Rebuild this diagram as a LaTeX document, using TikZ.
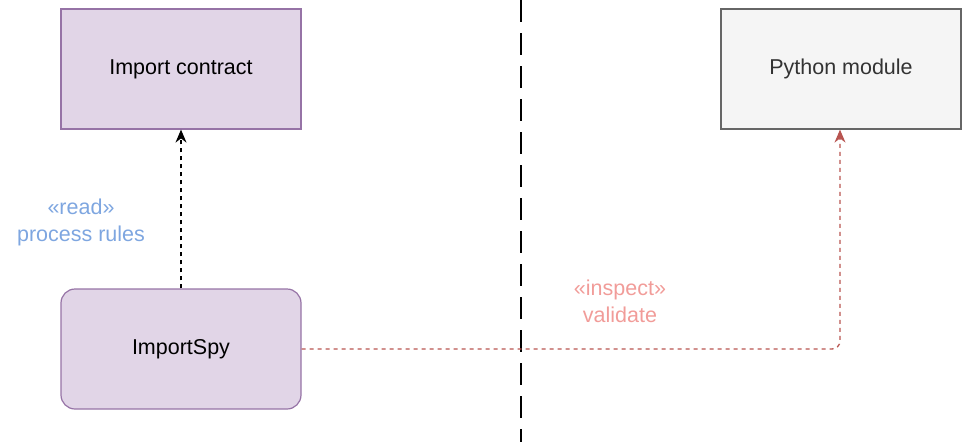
\documentclass[tikz,border=0pt]{standalone}
\usepackage{fontspec}
\setmainfont{Liberation Sans}
\usetikzlibrary{positioning,arrows.meta}
\definecolor{purplefill}{HTML}{E1D5E7}
\definecolor{purpleline}{HTML}{9673A6}
\definecolor{greyfill}{HTML}{F5F5F5}
\definecolor{greyline}{HTML}{666666}
\definecolor{redline}{HTML}{B85450}
\definecolor{redtext}{HTML}{F19C99}
\definecolor{bluetext}{HTML}{7EA6E0}
\tikzset{
  box/.style={draw, line width=1.2pt, minimum width=240pt, minimum height=120pt, font=\fontsize{21.5}{26}\selectfont},
  lbl/.style={align=center, font=\fontsize{21.5}{27}\selectfont},
  flow/.style={dash pattern=on 4pt off 4pt, line width=1.3pt, -{Stealth[length=13pt,width=11pt]}}
}
\begin{document}
\begin{tikzpicture}[x=1pt,y=-1pt]
   \useasboundingbox (0,0) rectangle (962,442);
   \node[box, fill=purplefill, draw=purpleline] (contract) at (181,69) {Import contract};
   \node[box, fill=greyfill, draw=greyline, text=black!80] (module) at (841,69) {Python module};
   \node[box, fill=purplefill, draw=purpleline, rounded corners=14pt] (spy) at (181,349) {ImportSpy};
   \draw[line width=2pt, dash pattern=on 22pt off 11pt] (521,0) -- (521,442);
   \coordinate (turn) at (840,349);
   \draw[flow] (spy) -- (contract);
   \draw[flow, draw=redline, rounded corners=8pt]
      (spy.east) -- (turn) -- (module.south -| turn);
   \node[lbl, text=bluetext] (readlbl) at (81,222) {«read»\\process rules};
   \node[lbl, text=redtext] (inspectlbl) at (620,301) {«inspect»\\validate};
\end{tikzpicture}
\end{document}
